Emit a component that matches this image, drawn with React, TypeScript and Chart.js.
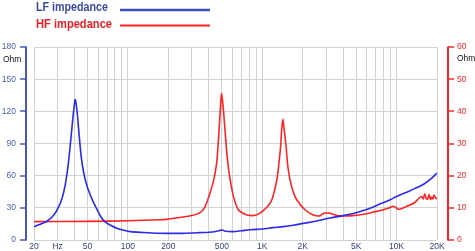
import React, { useEffect, useRef } from 'react';
import { Chart, registerables } from 'chart.js';

Chart.register(...registerables);

// LF impedance (left axis, Ohm)
const lfFreq = [20, 22, 25, 28, 30, 32, 34, 36, 38, 39.5, 40.6, 42, 43, 45, 47, 50, 55, 58.6, 63, 67.6, 75, 82.6, 95, 104, 130, 168, 200, 250, 300, 344, 400, 450, 480, 505, 530, 612, 700, 812, 1000, 1200, 1436, 1700, 2020, 2500, 3200, 4000, 4500, 5000, 6340, 7500, 8960, 10000, 12600, 15900, 18000, 20000];
const lfOhm = [12.5, 14.5, 17.5, 23, 29, 37, 50, 71, 100, 121, 131, 118, 103, 77, 62, 49, 36, 29, 21.5, 17, 13.5, 11, 8.8, 7.8, 7, 6.3, 6.2, 6.2, 6.5, 6.9, 7.3, 8, 8.8, 9.3, 8.2, 7.8, 8.6, 9.6, 10.3, 11.5, 12.5, 13.8, 15.5, 17.5, 20.5, 22.7, 24, 25.5, 29.7, 33.5, 37.5, 40.5, 46, 52, 57, 62.5];

// HF impedance (right axis, Ohm)
const hfFreq = [20, 50, 100, 173, 200, 244, 300, 344, 376, 400, 432, 458, 475, 490, 498, 510, 528, 545, 567, 611, 664, 720, 768, 860, 950, 1000, 1100, 1180, 1285, 1340, 1370, 1400, 1426, 1450, 1506, 1550, 1610, 1700, 1806, 2080, 2400, 2690, 2800, 2940, 3200, 3500, 3800, 4500, 5680, 7100, 8000, 8960, 9500, 10000, 10400, 11500, 12600, 13500, 14300, 15300, 15800, 16200, 16600, 17000, 17500, 17900, 18200, 18600, 19000, 19600, 20000];
const hfOhm = [5.7, 5.8, 6.0, 6.3, 6.5, 7.0, 7.6, 8.5, 10.4, 13.5, 18, 24, 33, 42, 45.6, 42, 34.4, 27, 20.8, 13.5, 9.4, 8.3, 7.8, 7.6, 8.2, 8.9, 10.5, 12.5, 18.75, 25, 29, 35, 37.5, 35, 29, 23, 18.75, 15, 12.5, 9.4, 7.8, 7.5, 8.1, 8.4, 8.3, 7.8, 7.5, 7.5, 8.0, 8.9, 9.4, 10.1, 10.5, 9.9, 9.5, 10.2, 10.9, 11.5, 12.5, 13.5, 12.8, 14.4, 12.9, 12.7, 14.1, 12.6, 13.3, 12.8, 14.0, 12.9, 12.9];

const xGridTicks = [20, 30, 40, 50, 60, 70, 80, 90, 100, 200, 300, 400, 500, 600, 700, 800, 900, 1000, 2000, 3000, 4000, 5000, 6000, 7000, 8000, 9000, 10000, 20000];
const xTickLabels: Record<string, string> = { '20': '20', '30': 'Hz', '50': '50', '100': '100', '200': '200', '500': '500', '1000': '1K', '2000': '2K', '5000': '5K', '10000': '10K', '20000': '20K' };
const leftTicks = [0, 30, 60, 90, 120, 150, 180];
const rightTicks = [0, 10, 20, 30, 40, 50, 60];

const FONT = 'Liberation Sans, Arial, sans-serif';
const BLUE_AXIS = '#4658b4';
const BLUE_LINE = '#2a2ae8';
const RED = '#ff2424';

const decorPlugin = {
  id: 'decor',
  afterDraw(chart: any) {
    const ctx = chart.ctx;
    const yL = chart.scales.y;
    const yR = chart.scales.y1;
    ctx.save();
    // Legend
    ctx.font = `bold 13px ${FONT}`;
    ctx.textBaseline = 'alphabetic';
    ctx.fillStyle = '#3a4aa0';
    ctx.fillText('LF impedance', 36, 11, 72);
    ctx.fillStyle = '#ee1c24';
    ctx.fillText('HF impedance', 36, 27.5, 76);
    ctx.lineWidth = 2.5;
    ctx.strokeStyle = '#3a50b8';
    ctx.beginPath(); ctx.moveTo(120, 10); ctx.lineTo(210, 10); ctx.stroke();
    ctx.lineWidth = 2;
    ctx.strokeStyle = RED;
    ctx.beginPath(); ctx.moveTo(120, 25.5); ctx.lineTo(210, 25.5); ctx.stroke();

    // Left axis line
    const top = yL.getPixelForValue(180);
    const bot = yL.getPixelForValue(0);
    ctx.strokeStyle = BLUE_AXIS;
    ctx.lineWidth = 2;
    ctx.beginPath(); ctx.moveTo(26, top - 0.5); ctx.lineTo(26, bot + 0.5); ctx.stroke();
    ctx.lineWidth = 1.5;
    leftTicks.forEach((v) => {
      const p = Math.round(yL.getPixelForValue(v));
      ctx.beginPath(); ctx.moveTo(20, p); ctx.lineTo(26, p); ctx.stroke();
    });
    // Right axis line
    ctx.strokeStyle = RED;
    ctx.lineWidth = 2;
    ctx.beginPath(); ctx.moveTo(448, top - 0.5); ctx.lineTo(448, bot + 0.5); ctx.stroke();
    ctx.lineWidth = 1.5;
    rightTicks.forEach((v) => {
      const p = Math.round(yR.getPixelForValue(v));
      ctx.beginPath(); ctx.moveTo(448, p); ctx.lineTo(454, p); ctx.stroke();
    });

    // Ohm labels
    ctx.font = `8.5px ${FONT}`;
    ctx.fillStyle = '#111111';
    ctx.textBaseline = 'middle';
    ctx.fillText('Ohm', 3, 60);
    ctx.fillText('Ohm', 457, 59);
    ctx.restore();
  },
};

export default function App() {
  const canvasRef = useRef<HTMLCanvasElement | null>(null);

  useEffect(() => {
    document.body.style.margin = '0';
    const canvas = canvasRef.current;
    if (!canvas) return;
    const chart = new Chart(canvas, {
      type: 'line',
      data: {
        datasets: [
          {
            label: 'LF impedance',
            data: lfFreq.map((f, i) => ({ x: f, y: lfOhm[i] })),
            yAxisID: 'y',
            borderColor: BLUE_LINE,
            borderWidth: 1.6,
            pointRadius: 0,
            tension: 0.3,
          },
          {
            label: 'HF impedance',
            data: hfFreq.map((f, i) => ({ x: f, y: hfOhm[i] })),
            yAxisID: 'y1',
            borderColor: RED,
            borderWidth: 1.6,
            pointRadius: 0,
            tension: 0.3,
          },
        ],
      },
      options: {
        animation: false,
        responsive: false,
        devicePixelRatio: 1,
        layout: { padding: { top: 47, left: 0, right: 0, bottom: 0 } },
        plugins: { legend: { display: false }, tooltip: { enabled: false } },
        scales: {
          x: {
            type: 'logarithmic',
            min: 20,
            max: 20000,
            afterBuildTicks: (s: any) => { s.ticks = xGridTicks.map((v) => ({ value: v })); },
            afterFit: (s: any) => { s.height = 11; },
            ticks: {
              autoSkip: false,
              maxRotation: 0,
              padding: 2,
              color: '#34427e',
              font: { size: 8.5, family: FONT },
              callback: (v: any) => xTickLabels[String(v)] ?? '',
            },
            grid: { color: '#d2d2d2', lineWidth: 1, drawTicks: false },
            border: { display: false },
          },
          y: {
            position: 'left',
            min: 0,
            max: 180,
            afterBuildTicks: (s: any) => { s.ticks = leftTicks.map((v) => ({ value: v })); },
            afterFit: (s: any) => { s.width = 34; s.paddingTop = 0; s.paddingBottom = 0; },
            ticks: { padding: 18, color: '#4a5db0', font: { size: 8.5, family: FONT } },
            grid: { color: '#d2d2d2', lineWidth: 1, drawTicks: false },
            border: { display: false },
          },
          y1: {
            position: 'right',
            min: 0,
            max: 60,
            afterBuildTicks: (s: any) => { s.ticks = rightTicks.map((v) => ({ value: v })); },
            afterFit: (s: any) => { s.width = 38; s.paddingTop = 0; s.paddingBottom = 0; },
            ticks: { padding: 20, color: RED, font: { size: 8.5, family: FONT } },
            grid: { drawOnChartArea: false, drawTicks: false },
            border: { display: false },
          },
        },
      },
      plugins: [decorPlugin],
    } as any);
    return () => chart.destroy();
  }, []);

  return (
    <div style={{ width: 475, height: 251, background: '#fff' }}>
      <canvas ref={canvasRef} width={475} height={251} style={{ display: 'block', width: 475, height: 251 }} />
    </div>
  );
}
